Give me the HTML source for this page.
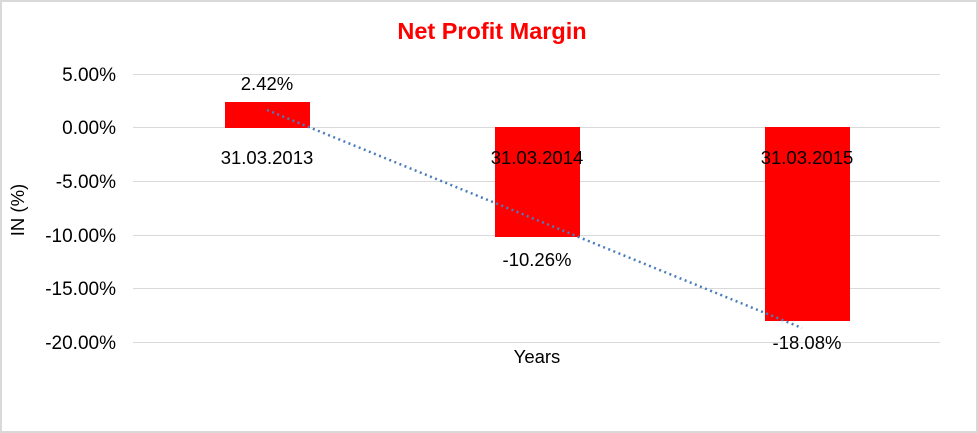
<!DOCTYPE html>
<html><head><style>body{margin:0;background:#fff}svg{display:block}</style></head><body>
<svg width="978" height="433" xmlns="http://www.w3.org/2000/svg" font-family="Liberation Sans, Arial, sans-serif">
<rect x="1" y="1" width="976" height="431" fill="#fff" stroke="#d9d9d9" stroke-width="2"/>
<text x="492" y="39" text-anchor="middle" font-size="23.5" font-weight="bold" fill="#ff0000">Net Profit Margin</text>
<g stroke="#d9d9d9" stroke-width="1">
<line x1="133" y1="74.5" x2="940" y2="74.5"/>
<line x1="133" y1="127.5" x2="940" y2="127.5"/>
<line x1="133" y1="181.5" x2="940" y2="181.5"/>
<line x1="133" y1="235.5" x2="940" y2="235.5"/>
<line x1="133" y1="288.5" x2="940" y2="288.5"/>
<line x1="133" y1="342.5" x2="940" y2="342.5"/>
</g>
<g font-size="19" fill="#000" text-anchor="end">
<text x="116" y="81">5.00%</text>
<text x="116" y="134">0.00%</text>
<text x="116" y="188">-5.00%</text>
<text x="116" y="242">-10.00%</text>
<text x="116" y="295">-15.00%</text>
<text x="116" y="349">-20.00%</text>
</g>
<text transform="translate(24,210) rotate(-90)" text-anchor="middle" font-size="18.5">IN (%)</text>
<rect x="225" y="102" width="85" height="26" fill="#ff0000"/>
<rect x="495" y="127" width="85" height="110" fill="#ff0000"/>
<rect x="765" y="127" width="85" height="194" fill="#ff0000"/>
<line x1="267" y1="110" x2="802" y2="328" stroke="#4a7ebb" stroke-width="2.5" stroke-dasharray="2,3.5"/>
<g font-size="18.5" fill="#000" text-anchor="middle">
<text x="267" y="90">2.42%</text>
<text x="267" y="164">31.03.2013</text>
<text x="537" y="164">31.03.2014</text>
<text x="807" y="164">31.03.2015</text>
<text x="537" y="266">-10.26%</text>
<text x="807" y="349">-18.08%</text>
<text x="537" y="363">Years</text>
</g>
</svg>
</body></html>
